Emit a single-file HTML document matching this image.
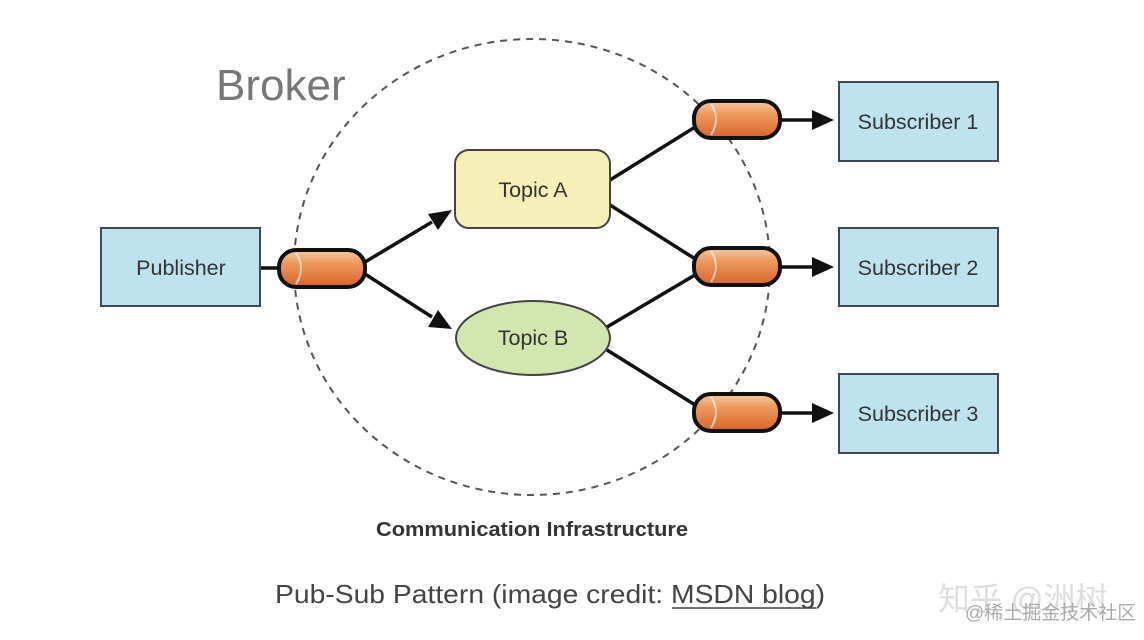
<!DOCTYPE html>
<html><head><meta charset="utf-8"><style>
html,body{margin:0;padding:0;background:#fff;}
svg{display:block;}
</style></head><body>
<svg width="1144" height="640" viewBox="0 0 1144 640" xmlns="http://www.w3.org/2000/svg">
<defs>
<linearGradient id="pg" x1="0" y1="0" x2="0" y2="1">
<stop offset="0" stop-color="#f6c9a6"/><stop offset="0.35" stop-color="#ee9a5e"/><stop offset="1" stop-color="#d8632a"/>
</linearGradient>
</defs>
<ellipse cx="532" cy="267" rx="238" ry="228" fill="none" stroke="#555" stroke-width="2" stroke-dasharray="7,6"/>
<text x="216" y="100" font-family="Liberation Sans, sans-serif" font-size="44" fill="#777">Broker</text>

<g stroke="#111" stroke-width="3.5" fill="none">
<line x1="260" y1="268" x2="285" y2="268"/>
<line x1="365" y1="262" x2="432" y2="222"/>
<line x1="365" y1="274" x2="432" y2="317"/>
<line x1="610" y1="180" x2="700" y2="124"/>
<line x1="610" y1="205" x2="700" y2="262"/>
<line x1="607" y1="327" x2="700" y2="272"/>
<line x1="607" y1="350" x2="700" y2="408"/>
<line x1="780" y1="120" x2="815" y2="120"/>
<line x1="780" y1="267" x2="815" y2="267"/>
<line x1="780" y1="413" x2="815" y2="413"/>
</g>
<g fill="#111">
<polygon points="452,210 428,214 438,230"/>
<polygon points="452,329 438,310 428,327"/>
<polygon points="834,120 812,110 812,130"/>
<polygon points="834,267 812,257 812,277"/>
<polygon points="834,413 812,403 812,423"/>
</g>

<g stroke="#111" stroke-width="4" fill="url(#pg)">
<rect x="279" y="250" width="86" height="37" rx="17"/>
<rect x="694" y="101" width="86" height="37" rx="17"/>
<rect x="694" y="248" width="86" height="37" rx="17"/>
<rect x="694" y="394" width="86" height="37" rx="17"/>
</g>
<g stroke="#fff" stroke-opacity="0.6" stroke-width="2" fill="none">
<path d="M296 253 Q306 268 296 284"/>
<path d="M711 104 Q721 119 711 135"/>
<path d="M711 251 Q721 266 711 282"/>
<path d="M711 397 Q721 412 711 428"/>
</g>

<g stroke="#3d4a55" stroke-width="2" fill="#bfe2ef">
<rect x="101" y="228" width="159" height="78"/>
<rect x="839" y="82" width="159" height="79"/>
<rect x="839" y="228" width="159" height="78"/>
<rect x="839" y="374" width="159" height="79"/>
</g>
<rect x="455" y="150" width="155" height="78" rx="14" fill="#f7efb8" stroke="#444" stroke-width="2"/>
<ellipse cx="533" cy="338" rx="77" ry="37" fill="#d4e6b0" stroke="#444" stroke-width="2"/>

<g font-family="Liberation Sans, sans-serif" font-size="21.5" fill="#333" text-anchor="middle">
<text x="181" y="275">Publisher</text>
<text x="533" y="197">Topic A</text>
<text x="533" y="345">Topic B</text>
<text x="918" y="129">Subscriber 1</text>
<text x="918" y="275">Subscriber 2</text>
<text x="918" y="421">Subscriber 3</text>
</g>
<text x="376" y="536" font-family="Liberation Sans, sans-serif" font-size="20" font-weight="bold" fill="#333" textLength="312" lengthAdjust="spacingAndGlyphs">Communication Infrastructure</text>

<text x="275" y="603" font-family="Liberation Sans, sans-serif" font-size="26" fill="#444" textLength="550" lengthAdjust="spacingAndGlyphs">Pub-Sub Pattern (image credit: MSDN blog)</text>
<line x1="672" y1="608" x2="816" y2="608" stroke="#444" stroke-width="1.5"/>

<text x="938" y="610" font-family="Liberation Sans, Noto Sans CJK SC, sans-serif" font-size="32" fill="#ddd">知乎 @洲树</text>
<text x="965" y="619" font-family="Liberation Sans, Noto Sans CJK SC, sans-serif" font-size="19" fill="#aaa">@稀土掘金技术社区</text>
</svg>
</body></html>
